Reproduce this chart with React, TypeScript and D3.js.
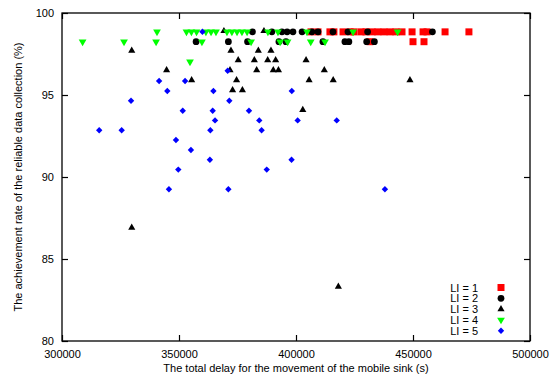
import * as d3 from 'd3';
import { useEffect, useRef } from 'react';

// [total delay (s), achievement rate (%)] for each LI value
const li1: [number, number][] = [
  [406400, 98.85], [409400, 98.85], [414500, 98.85], [416200, 98.85], [420100, 98.85],
  [423100, 98.85], [424800, 98.85], [427800, 98.85], [429900, 98.85], [432500, 98.85],
  [435000, 98.85], [437600, 98.85], [440200, 98.85], [442700, 98.85], [445300, 98.85],
  [449600, 98.85], [454300, 98.85], [456000, 98.85], [463700, 98.85], [473900, 98.85],
  [431600, 98.25], [450000, 98.25], [454700, 98.25],
];

const li2: [number, number][] = [
  [381400, 98.85], [389700, 98.85], [394000, 98.85], [396200, 98.85], [398700, 98.85],
  [402600, 98.85], [406800, 98.85], [409400, 98.85], [415800, 98.85], [422200, 98.85],
  [430600, 98.85], [458300, 98.85],
  [357300, 98.25], [371100, 98.25], [379300, 98.25], [392700, 98.25], [395700, 98.25],
  [411500, 98.25], [420900, 98.25], [422600, 98.25], [430200, 98.25], [433500, 98.25],
];

const li3: [number, number][] = [
  [369200, 98.9], [386300, 98.9],
  [329800, 97.7], [372200, 97.7], [383900, 97.7], [389300, 97.7],
  [375300, 97.13], [382200, 97.13], [387900, 97.13], [391300, 97.13], [404300, 97.13],
  [344700, 96.52], [371800, 96.52], [383200, 96.52], [390300, 96.52], [392500, 96.52], [412100, 96.52],
  [355400, 95.91], [374600, 95.91], [405600, 95.91], [415900, 95.91], [448700, 95.91],
  [372900, 95.3], [377100, 95.3],
  [402900, 94.09],
  [329800, 86.91],
  [418100, 83.31],
];

const li4: [number, number][] = [
  [340600, 98.85], [353200, 98.85], [355300, 98.85], [357500, 98.85], [361500, 98.85],
  [363700, 98.85], [365800, 98.85], [370500, 98.85], [372600, 98.85], [374800, 98.85],
  [376900, 98.85], [379100, 98.85], [388000, 98.85], [392300, 98.85], [404700, 98.85],
  [424400, 98.85], [443400, 98.85],
  [308800, 98.25], [326500, 98.25], [340200, 98.25], [359800, 98.25], [380800, 98.25],
  [393200, 98.25], [396400, 98.25], [406300, 98.25], [412400, 98.25],
  [354700, 97.03],
];

const li5: [number, number][] = [
  [360000, 98.86],
  [370800, 96.48],
  [341500, 95.85], [352600, 95.85],
  [345000, 95.24], [364700, 95.24], [398200, 95.24],
  [329500, 94.65], [371500, 94.65],
  [351600, 94.04], [364400, 94.04], [379900, 94.04],
  [365400, 93.45], [384300, 93.45], [400700, 93.45], [417400, 93.45],
  [315900, 92.85], [325500, 92.85], [363400, 92.85], [385300, 92.85],
  [348700, 92.26],
  [355100, 91.65],
  [363200, 91.05], [398100, 91.05],
  [349700, 90.45], [387500, 90.45],
  [345700, 89.25], [371100, 89.25], [438000, 89.25],
];

const seriesLabels = ['LI = 1', 'LI = 2', 'LI = 3', 'LI = 4', 'LI = 5'];
const xTicks = [300000, 350000, 400000, 450000, 500000];
const yTicks = [80, 85, 90, 95, 100];

const W = 558;
const H = 379;
const font = 'Liberation Sans, Arial, Helvetica, sans-serif';

export default function App() {
  const ref = useRef<SVGSVGElement>(null);

  useEffect(() => {
    const svg = d3.select(ref.current);
    svg.selectAll('*').remove();

    const margin = { top: 13, right: 28, bottom: 38, left: 62 };
    const x = d3.scaleLinear().domain([300000, 500000]).range([margin.left, W - margin.right]);
    const y = d3.scaleLinear().domain([80, 100]).range([H - margin.bottom, margin.top]);

    // inward ticks on all four sides, gnuplot style
    const tk = 6;
    svg.append('g')
      .attr('transform', `translate(0,${y(80)})`)
      .call(d3.axisBottom(x).tickValues(xTicks).tickSize(-tk).tickPadding(9).tickFormat(d3.format('d')))
      .call((g) => g.select('.domain').remove());
    svg.append('g')
      .attr('transform', `translate(0,${y(100)})`)
      .call(d3.axisTop(x).tickValues(xTicks).tickSize(-tk).tickFormat(() => ''))
      .call((g) => g.select('.domain').remove());
    svg.append('g')
      .attr('transform', `translate(${x(300000)},0)`)
      .call(d3.axisLeft(y).tickValues(yTicks).tickSize(-tk).tickPadding(8))
      .call((g) => g.select('.domain').remove());
    svg.append('g')
      .attr('transform', `translate(${x(500000)},0)`)
      .call(d3.axisRight(y).tickValues(yTicks).tickSize(-tk).tickFormat(() => ''))
      .call((g) => g.select('.domain').remove());

    svg.selectAll('.tick line').attr('stroke', '#000').attr('stroke-width', 1.2);
    svg.selectAll('.tick text')
      .attr('font-family', font)
      .attr('font-size', 11)
      .attr('fill', '#000');

    svg.append('rect')
      .attr('x', x(300000))
      .attr('y', y(100))
      .attr('width', x(500000) - x(300000))
      .attr('height', y(80) - y(100))
      .attr('fill', 'none')
      .attr('stroke', '#000')
      .attr('stroke-width', 1.3);

    const styles = [
      { data: li1, color: '#ff0000', sym: d3.symbol(d3.symbolSquare, 49), rot: 0 },
      { data: li2, color: '#000000', sym: d3.symbol(d3.symbolCircle, 36), rot: 0 },
      { data: li3, color: '#000000', sym: d3.symbol(d3.symbolTriangle, 22), rot: 0 },
      { data: li4, color: '#00ff00', sym: d3.symbol(d3.symbolTriangle, 26), rot: 180 },
      { data: li5, color: '#0000ff', sym: d3.symbol(d3.symbolDiamond2, 26), rot: 0 },
    ];

    styles.forEach((s) => {
      svg.append('g')
        .selectAll('path')
        .data(s.data)
        .join('path')
        .attr('d', s.sym())
        .attr('fill', s.color)
        .attr('transform', (d) => `translate(${x(d[0])},${y(d[1])}) rotate(${s.rot})`);
    });

    // legend
    const legend = svg.append('g');
    styles.forEach((s, i) => {
      const ly = 287.5 + i * 10.8;
      legend.append('text')
        .attr('x', 478)
        .attr('y', ly + 4)
        .attr('text-anchor', 'end')
        .attr('font-family', font)
        .attr('font-size', 11)
        .text(seriesLabels[i]);
      legend.append('path')
        .attr('d', s.sym())
        .attr('fill', s.color)
        .attr('transform', `translate(501,${ly}) rotate(${s.rot})`);
    });

    svg.append('text')
      .attr('x', (x(300000) + x(500000)) / 2)
      .attr('y', 372)
      .attr('text-anchor', 'middle')
      .attr('font-family', font)
      .attr('font-size', 11)
      .text('The total delay for the movement of the mobile sink (s)');

    svg.append('text')
      .attr('transform', `translate(22,${(y(80) + y(100)) / 2}) rotate(-90)`)
      .attr('text-anchor', 'middle')
      .attr('font-family', font)
      .attr('font-size', 11)
      .text('The achievement rate of the reliable data collection (%)');
  }, []);

  return (
    <svg
      ref={ref}
      width={W}
      height={H}
      style={{ position: 'absolute', left: 0, top: 0, background: '#fff' }}
    />
  );
}
